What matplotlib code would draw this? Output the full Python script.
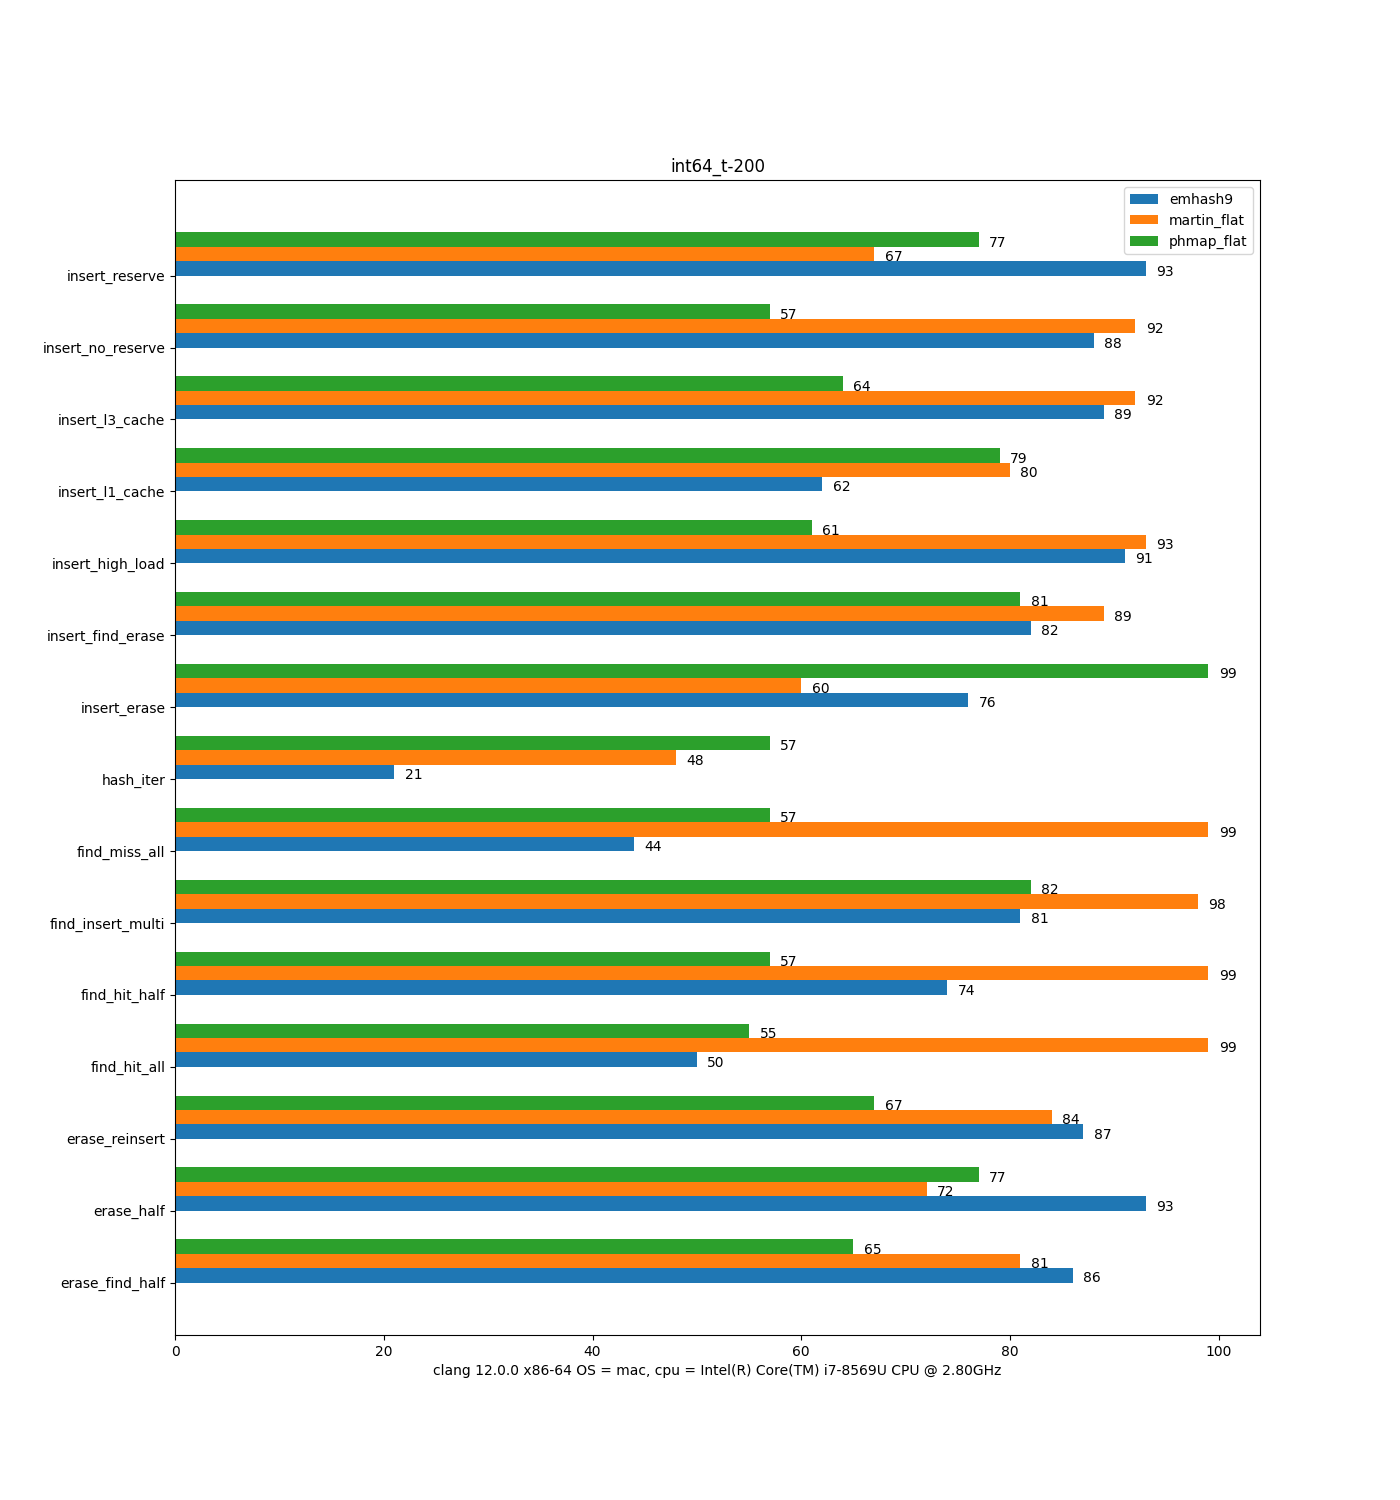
import matplotlib
matplotlib.use("Agg")
import matplotlib.pyplot as plt
import numpy as np

# benchmark names, bottom to top
benches = ["erase_find_half", "erase_half", "erase_reinsert", "find_hit_all",
           "find_hit_half", "find_insert_multi", "find_miss_all", "hash_iter",
           "insert_erase", "insert_find_erase", "insert_high_load",
           "insert_l1_cache", "insert_l3_cache", "insert_no_reserve",
           "insert_reserve"]

emhash9 = [86, 93, 87, 50, 74, 81, 44, 21, 76, 82, 91, 62, 89, 88, 93]
martin_flat = [81, 72, 84, 99, 99, 98, 99, 48, 60, 89, 93, 80, 92, 92, 67]
phmap_flat = [65, 77, 67, 55, 57, 82, 57, 57, 99, 81, 61, 79, 64, 57, 77]

series = [("emhash9", emhash9), ("martin_flat", martin_flat), ("phmap_flat", phmap_flat)]

fig, ax = plt.subplots(figsize=(14, 15), dpi=100)
y = np.arange(len(benches))
h = 0.2
for k, (name, vals) in enumerate(series):
    ax.barh(y + k * h, vals, height=h, align='edge', label=name)
    for i, v in enumerate(vals):
        ax.text(v + 1, i + k * h, str(v))

ax.set_yticks(y)
ax.set_yticklabels(benches)
ax.set_title("int64_t-200")
ax.set_xlabel("clang 12.0.0 x86-64 OS = mac, cpu = Intel(R) Core(TM) i7-8569U CPU @ 2.80GHz")
ax.legend(loc="upper right")
fig.savefig("out.png")
